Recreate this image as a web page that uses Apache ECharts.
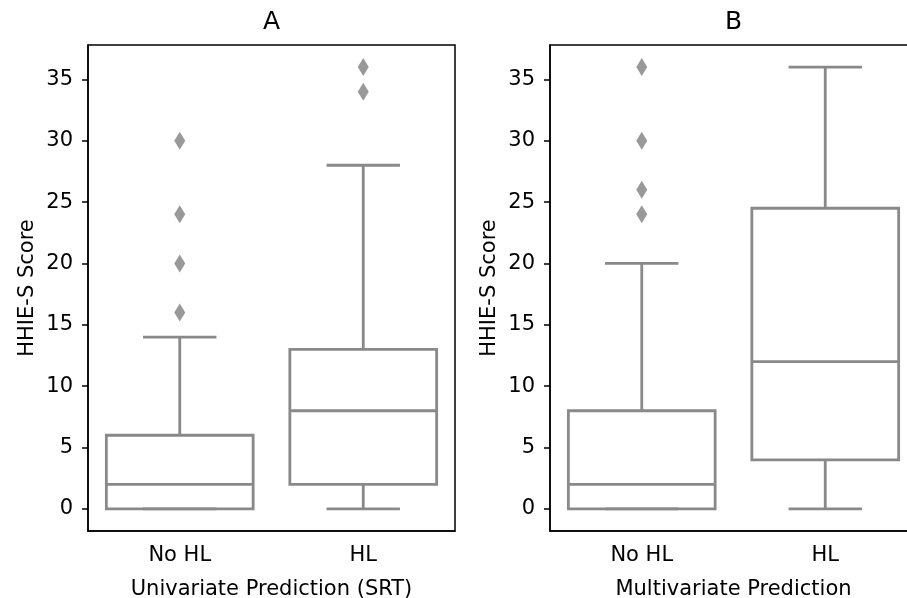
<!DOCTYPE html>
<html>
<head>
<meta charset="utf-8">
<title>HHIE-S boxplots</title>
<script src="https://cdn.jsdelivr.net/npm/echarts@6/dist/echarts.min.js"></script>
<style>
  html, body { margin: 0; padding: 0; background: #fff; }
  #main { width: 907px; height: 598px; }
</style>
</head>
<body>
<div id="main"></div>
<script>
// data
var categories = ['No HL', 'HL'];
var yTicks = [0, 5, 10, 15, 20, 25, 30, 35];

// [low whisker, q1, median, q3, high whisker]
var boxesA = [[0, 0, 2, 6, 14], [0, 2, 8, 13, 28]];
var boxesB = [[0, 0, 2, 8, 20], [0, 4, 12, 24.5, 36]];

// [category index, value]
var outliersA = [[0, 16], [0, 20], [0, 24], [0, 30], [1, 34], [1, 36]];
var outliersB = [[0, 24], [0, 26], [0, 30], [0, 36]];

var boxColor = '#898989';
var font = 'DejaVu Sans';

var myChart = echarts.init(document.getElementById('main'));

function boxData(boxes) {
    return boxes.map(function (b, i) { return [i].concat(b); });
}

// seaborn style box: box 0.8 of the band, caps half of the box
function renderBox(params, api) {
    var x = api.value(0);
    var band = api.size([1, 0])[0];
    var hw = band * 0.4;
    var cw = hw / 2;
    var low = api.coord([x, api.value(1)]);
    var q1 = api.coord([x, api.value(2)]);
    var med = api.coord([x, api.value(3)]);
    var q3 = api.coord([x, api.value(4)]);
    var high = api.coord([x, api.value(5)]);
    var cx = low[0];
    var st = { stroke: boxColor, lineWidth: 2.8, fill: null };
    return {
        type: 'group',
        children: [
            { type: 'rect', shape: { x: cx - hw, y: q3[1], width: hw * 2, height: q1[1] - q3[1] }, style: { stroke: boxColor, lineWidth: 2.8, fill: '#fff' } },
            { type: 'line', shape: { x1: cx - hw, y1: med[1], x2: cx + hw, y2: med[1] }, style: st },
            { type: 'line', shape: { x1: cx, y1: q1[1], x2: cx, y2: low[1] }, style: st },
            { type: 'line', shape: { x1: cx, y1: q3[1], x2: cx, y2: high[1] }, style: st },
            { type: 'line', shape: { x1: cx - cw, y1: low[1], x2: cx + cw, y2: low[1] }, style: st },
            { type: 'line', shape: { x1: cx - cw, y1: high[1], x2: cx + cw, y2: high[1] }, style: st }
        ]
    };
}

function makeX(idx, name) {
    return {
        type: 'category', gridIndex: idx, data: categories,
        name: name, nameLocation: 'middle', nameGap: 48,
        nameTextStyle: { fontFamily: font, fontSize: 21, color: '#000' },
        axisLine: { onZero: false, lineStyle: { color: '#000', width: 1.5 } },
        axisTick: { alignWithLabel: true, length: 6, lineStyle: { color: '#000', width: 1.5 } },
        axisLabel: { fontFamily: font, fontSize: 21, color: '#000', margin: 14 },
        splitLine: { show: false }
    };
}

function makeY(idx) {
    return {
        type: 'value', gridIndex: idx, min: -1.8, max: 37.8,
        name: 'HHIE-S Score', nameLocation: 'middle', nameGap: 50,
        nameTextStyle: { fontFamily: font, fontSize: 21, color: '#000' },
        axisLine: { show: true, onZero: false, lineStyle: { color: '#000', width: 1.5 } },
        axisTick: { show: true, length: 6, customValues: yTicks, lineStyle: { color: '#000', width: 1.5 } },
        axisLabel: { fontFamily: font, fontSize: 21, color: '#000', margin: 15, customValues: yTicks },
        splitLine: { show: false }
    };
}

var option = {
    animation: false,
    backgroundColor: '#fff',
    graphic: [
        { type: 'text', x: 271.5, y: 22, style: { text: 'A', font: '25px "DejaVu Sans"', fill: '#000', align: 'center', verticalAlign: 'middle' } },
        { type: 'text', x: 733.5, y: 22, style: { text: 'B', font: '25px "DejaVu Sans"', fill: '#000', align: 'center', verticalAlign: 'middle' } }
    ],
    grid: [
        { left: 88, top: 45, width: 367, height: 486, outerBoundsMode: 'none', show: true, borderColor: '#000', borderWidth: 1.5, backgroundColor: 'transparent' },
        { left: 550, top: 45, width: 367, height: 486, outerBoundsMode: 'none', show: true, borderColor: '#000', borderWidth: 1.5, backgroundColor: 'transparent' }
    ],
    xAxis: [makeX(0, 'Univariate Prediction (SRT)'), makeX(1, 'Multivariate Prediction')],
    yAxis: [makeY(0), makeY(1)],
    series: [
        { type: 'custom', xAxisIndex: 0, yAxisIndex: 0, renderItem: renderBox, data: boxData(boxesA), encode: { x: 0, y: [1, 2, 3, 4, 5] } },
        { type: 'custom', xAxisIndex: 1, yAxisIndex: 1, renderItem: renderBox, data: boxData(boxesB), encode: { x: 0, y: [1, 2, 3, 4, 5] } },
        { type: 'scatter', xAxisIndex: 0, yAxisIndex: 0, symbol: 'diamond', symbolSize: [11, 18], itemStyle: { color: '#808080' }, data: outliersA },
        { type: 'scatter', xAxisIndex: 1, yAxisIndex: 1, symbol: 'diamond', symbolSize: [11, 18], itemStyle: { color: '#808080' }, data: outliersB }
    ]
};

myChart.setOption(option);
</script>
</body>
</html>
